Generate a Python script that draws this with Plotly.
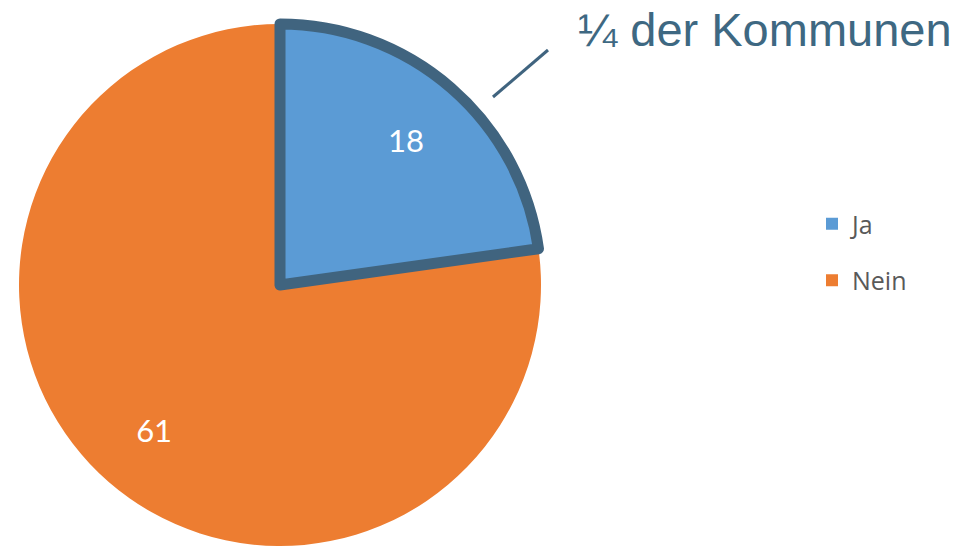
import plotly.graph_objects as go

labels = ["Ja", "Nein"]
values = [18, 61]
colors = ["#5B9BD5", "#ED7D31"]
border_color = "#40647F"
callout_text = "¼ der Kommunen"

W, H = 960, 546
cx, cy, r = 280, 285, 261

dom_x = [(cx - r) / W, (cx + r) / W]
dom_y = [(H - cy - r) / H, (H - cy + r) / H]

fig = go.Figure()

fig.add_trace(go.Pie(
    labels=labels, values=values, sort=False, direction="clockwise", rotation=0,
    marker=dict(colors=colors, line=dict(width=0)),
    textinfo="none",
    domain=dict(x=dom_x, y=dom_y), showlegend=False, hoverinfo="label+value",
))

# border overlay for the highlighted slice
fig.add_trace(go.Pie(
    labels=labels, values=values, sort=False, direction="clockwise", rotation=0,
    marker=dict(colors=["rgba(0,0,0,0)"] * len(labels),
                line=dict(color=[border_color, "rgba(0,0,0,0)"], width=[11, 0])),
    textinfo="none", domain=dict(x=dom_x, y=dom_y), showlegend=False, hoverinfo="skip",
))

# value labels (transparent ring so text sits at ~0.73 R)
fig.add_trace(go.Pie(
    labels=labels, values=values, sort=False, direction="clockwise", rotation=0,
    hole=0.47,
    marker=dict(colors=["rgba(0,0,0,0)"] * len(labels), line=dict(width=0)),
    textinfo="value", textposition="inside", insidetextorientation="horizontal",
    textfont=dict(family="Lato", size=31, color="white"),
    domain=dict(x=dom_x, y=dom_y), showlegend=False, hoverinfo="skip",
))

# legend entries
for lab, col in zip(labels, colors):
    fig.add_trace(go.Scatter(
        x=[None], y=[None], mode="markers", name=lab, legendgroup=lab,
        marker=dict(symbol="square", size=12, color=col),
    ))

fig.add_shape(type="line", xref="paper", yref="paper",
              x0=493 / W, y0=1 - 97 / H, x1=548 / W, y1=1 - 50 / H,
              line=dict(color=border_color, width=3))

fig.add_annotation(text=callout_text, xref="paper", yref="paper",
                   x=576 / W, y=1 - 29 / H, xanchor="left", yanchor="middle",
                   showarrow=False,
                   font=dict(family="Liberation Sans", size=47, color="#3E6882"))

fig.update_layout(
    width=W, height=H, margin=dict(l=0, r=0, t=0, b=0),
    paper_bgcolor="white", plot_bgcolor="white",
    xaxis=dict(visible=False), yaxis=dict(visible=False),
    legend=dict(x=812 / W, y=1 - 201 / H, xanchor="left", yanchor="top",
                traceorder="grouped", tracegroupgap=21,
                font=dict(family="Open Sans", size=25, color="#595959"),
                bgcolor="rgba(0,0,0,0)"),
)

fig.write_html("out.html")
